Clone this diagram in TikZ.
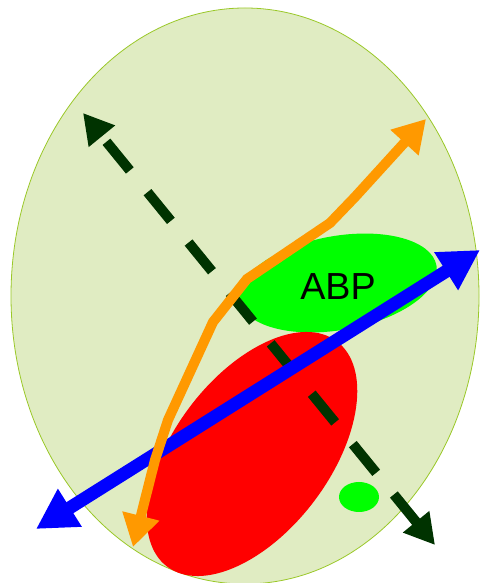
\documentclass[tikz,border=0pt]{standalone}
\usepackage{fontspec}
\setmainfont{Liberation Sans}
\usetikzlibrary{arrows.meta}
\definecolor{bgfill}{RGB}{224,236,194}
\definecolor{bgline}{RGB}{154,200,40}
\definecolor{abpgreen}{RGB}{0,255,0}
\definecolor{dkgreen}{RGB}{0,51,0}
\definecolor{orangeline}{RGB}{255,153,0}
\tikzset{
  blob/.style={draw=none},
  dasharrow/.style={draw=dkgreen, line width=10pt, dash pattern=on 37pt off 28pt,
    {Triangle[length=30pt,width=32pt]}-{Triangle[length=30pt,width=32pt]}},
  bluearrow/.style={draw=blue, line width=13pt,
    {Triangle[length=40pt,width=42pt]}-{Triangle[length=40pt,width=42pt]}},
  orangearrow/.style={draw=orangeline, line width=10pt, line join=miter,
    {Triangle[length=32pt,width=36pt]}-{Triangle[length=32pt,width=36pt]}},
}
\begin{document}
\begin{tikzpicture}[x=1pt,y=1pt]
\useasboundingbox (0,0) rectangle (480,583);
% background cell
\fill[bgfill] (245,287) ellipse [x radius=234, y radius=288];
\draw[bgline, line width=0.8pt] (245,287) ellipse [x radius=234, y radius=288];
% ABP blob
\fill[abpgreen, rotate around={10:(338,300)}] (338,300) ellipse [x radius=100, y radius=47];
% red blob
\fill[red, rotate around={53:(252,129)}] (252,129) ellipse [x radius=141, y radius=78];
% small green blob
\fill[abpgreen] (359,86) ellipse [x radius=20, y radius=15];
\node[font=\fontsize{37.7}{40}\selectfont, inner sep=0pt] (abp) at (338,296) {ABP};
% coordinates
\coordinate (d1) at (435,38);
\coordinate (d2) at (83,470);
\coordinate (b1) at (36,54);
\coordinate (b2) at (480,333);
\coordinate (o1) at (133,36);
\coordinate (o2) at (155,123);
\coordinate (o3) at (168,163);
\coordinate (o4) at (213,261);
\coordinate (o5) at (247,304);
\coordinate (o6) at (330,360);
\coordinate (o7) at (355,386);
\coordinate (o8) at (426,464);
\draw[dasharrow] (d1) -- (d2);
\draw[bluearrow] (b1) -- (b2);
\draw[orangearrow] (o1) -- (o2) -- (o3) -- (o4) -- (o5) -- (o6) -- (o7) -- (o8);
\end{tikzpicture}
\end{document}
